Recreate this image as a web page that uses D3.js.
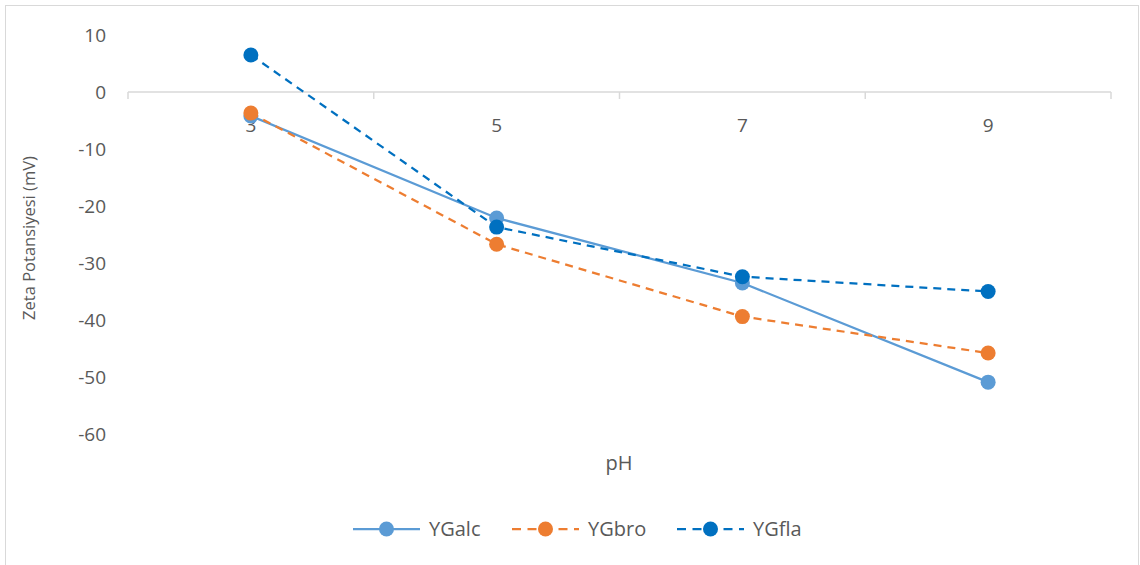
<!DOCTYPE html>
<html>
<head>
<meta charset="utf-8">
<script src="https://cdn.jsdelivr.net/npm/d3@7"></script>
<style>
  html, body { margin: 0; padding: 0; background: #fff; }
  svg { display: block; }
  text { font-family: "Open Sans", "Liberation Sans", sans-serif; fill: #595959; }
</style>
</head>
<body>
<svg id="chart" width="1140" height="565"></svg>
<script>
const categories = ["3", "5", "7", "9"];
const seriesNames = ["YGalc", "YGbro", "YGfla"];
const YGalc = [-4.2, -22.1, -33.5, -50.9];
const YGbro = [-3.7, -26.7, -39.4, -45.8];
const YGfla = [6.5, -23.7, -32.4, -35.0];
const yTicks = [10, 0, -10, -20, -30, -40, -50, -60];
const colors = ["#5B9BD5", "#ED7D31", "#0070C0"];
const dashes = [null, "8,6", "8,6"];
const yTitle = "Zeta Potansiyesi (mV)";
const xTitle = "pH";

const seriesValues = [YGalc, YGbro, YGfla];

const svg = d3.select("#chart");

// chart border
svg.append("rect").attr("x", 5.5).attr("y", 5.5).attr("width", 1133).attr("height", 570)
  .attr("fill", "none").attr("stroke", "#D9D9D9").attr("stroke-width", 1);

const x = d3.scaleBand().domain(categories).range([128, 1111]);
const y = d3.scaleLinear().domain([-60, 10]).range([434, 35]);

// category axis at y=0
const gx = svg.append("g").attr("transform", `translate(0,${y(0)})`);
gx.append("line").attr("x1", 128).attr("x2", 1111).attr("y1", 0).attr("y2", 0)
  .attr("stroke", "#D9D9D9").attr("stroke-width", 1.5);
const bounds = categories.map(c => x(c)).concat([x.range()[1]]);
gx.selectAll("line.tk").data(bounds).enter().append("line").attr("class", "tk")
  .attr("x1", d => d).attr("x2", d => d).attr("y1", 0).attr("y2", 7)
  .attr("stroke", "#D9D9D9").attr("stroke-width", 1.5);
gx.selectAll("text.cat").data(categories).enter().append("text").attr("class", "cat")
  .attr("x", d => x(d) + x.bandwidth() / 2).attr("y", 40)
  .attr("text-anchor", "middle").attr("font-size", 19).text(d => d);

// y axis labels (no line)
const yAxis = d3.axisLeft(y).tickValues(yTicks).tickSize(0).tickPadding(0).tickFormat(d => String(d));
const gy = svg.append("g").attr("transform", "translate(106,0)").call(yAxis);
gy.select(".domain").remove();
gy.selectAll("text").attr("font-size", 19).attr("font-family", "'Open Sans', sans-serif").attr("fill", "#595959");

// axis titles
svg.append("text").attr("transform", "translate(35,238) rotate(-90)")
  .attr("text-anchor", "middle").attr("font-size", 16.5).text(yTitle);
svg.append("text").attr("x", 619).attr("y", 470)
  .attr("text-anchor", "middle").attr("font-size", 20).text(xTitle);

// series
const cx = c => x(c) + x.bandwidth() / 2;
const line = d3.line().x((d, i) => cx(categories[i])).y(d => y(d));
seriesValues.forEach((vals, si) => {
  const g = svg.append("g");
  g.append("path").datum(vals).attr("d", line).attr("fill", "none")
    .attr("stroke", colors[si]).attr("stroke-width", 2.25)
    .attr("stroke-dasharray", dashes[si]);
  g.selectAll("circle").data(vals).enter().append("circle")
    .attr("cx", (d, i) => cx(categories[i])).attr("cy", d => y(d)).attr("r", 7.5)
    .attr("fill", colors[si]);
});

// legend
const legX = [353, 512, 677];
const leg = svg.append("g");
seriesNames.forEach((name, i) => {
  const g = leg.append("g").attr("transform", `translate(${legX[i]},529)`);
  g.append("line").attr("x1", 0).attr("x2", 67).attr("y1", 0).attr("y2", 0)
    .attr("stroke", colors[i]).attr("stroke-width", 2.25).attr("stroke-dasharray", dashes[i] ? "9,6.5" : null);
  g.append("circle").attr("cx", 33.5).attr("cy", 0).attr("r", 7.5).attr("fill", colors[i]);
  g.append("text").attr("x", 76).attr("y", 7).attr("font-size", 20).text(name);
});
</script>
</body>
</html>
